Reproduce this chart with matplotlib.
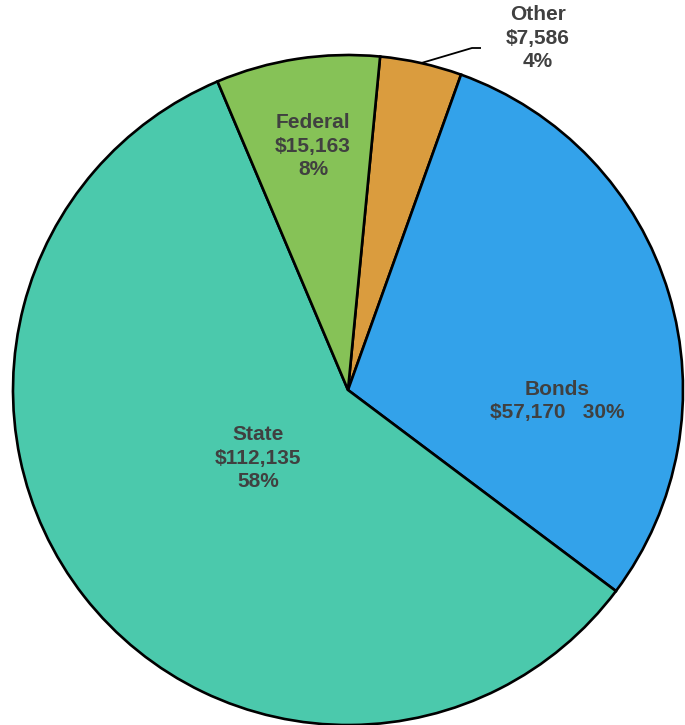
import matplotlib
matplotlib.use("Agg")
import matplotlib.pyplot as plt
import numpy as np

categories = ["Other", "Bonds", "State", "Federal"]
values = [7586, 57170, 112135, 15163]
pcts = ["4%", "30%", "58%", "8%"]
colors = ["#DA9C3E", "#33A2EA", "#4BC9AC", "#86C257"]
text_color = "#404040"

fig = plt.figure(figsize=(6.85, 7.25), dpi=100)
ax = fig.add_axes([0, 0, 1, 1])

cx, cy, r = 348, 335, 335
start = 90 - 5.5
wedges, _ = ax.pie(values, colors=colors, startangle=start, counterclock=False,
                   center=(cx, cy), radius=r, frame=True,
                   wedgeprops=dict(edgecolor="black", linewidth=1.9))
ax.set_xlim(0, 685)
ax.set_ylim(0, 725)
ax.set_aspect("equal")
ax.axis("off")

fs = 15
font = dict(fontsize=fs, fontweight="bold", color=text_color,
            family=["Liberation Sans", "DejaVu Sans"], ha="center", va="center",
            linespacing=1.28)

def fmt(v):
    return "${:,}".format(v)

ax.text(557, 725 - 401, f"Bonds\n{fmt(values[1])}   {pcts[1]}", **font)
ax.text(258, 725 - 458, f"State\n{fmt(values[2])}\n{pcts[2]}", **font)
ax.text(313, 725 - 146, f"Federal\n{fmt(values[3])}\n{pcts[3]}", **font)
ax.text(538, 725 - 38, f"Other\n{fmt(values[0])}\n{pcts[0]}", **font)

w = wedges[0]
mid = np.deg2rad((w.theta1 + w.theta2) / 2)
px, py = cx + r * np.cos(mid), cy + r * np.sin(mid)
ax.plot([px, 472, 481], [py, 725 - 48, 725 - 48], color="black", linewidth=1.3,
        solid_capstyle="butt")

fig.savefig("out.png", dpi=100)
